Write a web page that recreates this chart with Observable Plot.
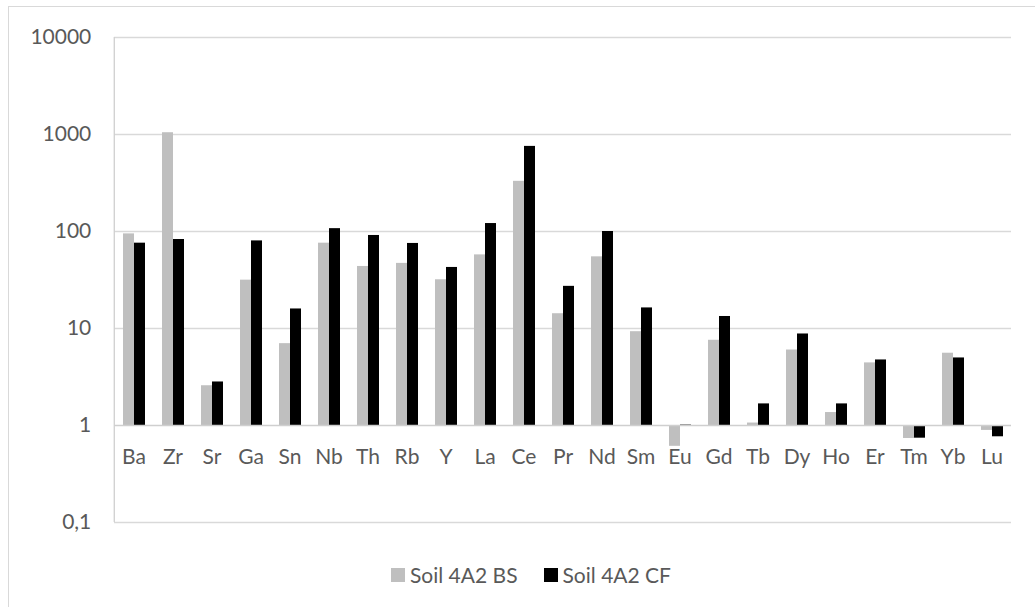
<!DOCTYPE html>
<html>
<head>
<meta charset="utf-8">
<script src="https://cdn.jsdelivr.net/npm/d3@7"></script>
<script src="https://cdn.jsdelivr.net/npm/@observablehq/plot@0.6"></script>
<style>
  body { margin: 0; background: #fff; font-family: Lato, "Open Sans", sans-serif; }
  #wrap { position: relative; width: 1035px; height: 607px; overflow: hidden; background: #fff; }
  #border { position: absolute; left: 8px; top: 6px; width: 1060px; height: 640px; border: 1.5px solid #d9d9d9; box-sizing: border-box; }
  #chart { position: absolute; left: 0; top: 0; }
  #legend { position: absolute; left: 391px; top: 562px; display: flex; align-items: center; font-family: Lato, sans-serif; font-size: 21px; color: #595959; white-space: nowrap; }
  .item { display: flex; align-items: center; margin-right: 26px; }
  .sw { width: 14px; height: 14px; margin-right: 5px; }
</style>
</head>
<body>
<div id="wrap">
  <div id="border"></div>
  <div id="chart"></div>
  <div id="legend"></div>
</div>
<script>
const elements = ["Ba","Zr","Sr","Ga","Sn","Nb","Th","Rb","Y","La","Ce","Pr","Nd","Sm","Eu","Gd","Tb","Dy","Ho","Er","Tm","Yb","Lu"];
const seriesNames = ["Soil 4A2 BS", "Soil 4A2 CF"];
const soilBS = [94.5, 1043, 2.57, 31.5, 6.98, 75.8, 43.6, 46.9, 31.8, 57.4, 329, 14.2, 54.8, 9.27, 0.61, 7.56, 1.06, 6.0, 1.36, 4.42, 0.735, 5.56, 0.89];
const soilCF = [75.8, 82.7, 2.81, 80, 15.9, 107, 91, 75.3, 42.6, 120.8, 754, 27.2, 100, 16.3, 1.01, 13.3, 1.67, 8.78, 1.67, 4.74, 0.74, 4.97, 0.765];
const yTicks = [0.1, 1, 10, 100, 1000, 10000];
const seriesColors = ["#bfbfbf", "#000000"];

const data = elements.flatMap((el, i) => [
  {el, series: seriesNames[0], value: soilBS[i]},
  {el, series: seriesNames[1], value: soilCF[i]}
]);

const fmt = d => String(d).replace(".", ",");

const W = 1035, ML = 109, MR = 19;
const facetWidth = (W - ML - MR) / elements.length;

const plot = Plot.plot({
  width: W,
  height: 540,
  marginLeft: ML,
  marginRight: MR,
  marginTop: 37,
  marginBottom: 18,
  style: {fontFamily: "Lato, sans-serif", fontSize: "21px", color: "#595959", background: "transparent", overflow: "visible"},
  fx: {domain: elements, padding: 0, axis: null, label: null},
  x: {domain: seriesNames, paddingInner: 0, paddingOuter: 0.767, axis: null, label: null},
  y: {type: "log", domain: [0.1, 10000], axis: null, label: null},
  color: {domain: seriesNames, range: seriesColors},
  marks: [
    Plot.ruleY(yTicks.filter(d => d !== 1), {stroke: "#d9d9d9", strokeWidth: 1.3}),
    Plot.barY(data, {fx: "el", x: "series", y1: () => 1, y2: "value", fill: "series"}),
    Plot.ruleY([1], {stroke: "#cfcfcf", strokeWidth: 1.3}),
    Plot.ruleX([elements[0]], {fx: d => d, x: null, y1: () => 0.1, y2: () => 10000, dx: -facetWidth / 2, stroke: "#cfcfcf", strokeWidth: 1.3}),
    Plot.text(elements, {fx: d => d, y: () => 1, text: d => d, dy: 32, fill: "#595959", fontSize: 21}),
    Plot.text(yTicks, {fx: () => elements[0], y: d => d, text: fmt, textAnchor: "end", dx: -(facetWidth / 2 + 23), fill: "#595959", fontSize: 21})
  ]
});
document.getElementById("chart").appendChild(plot);

const legend = document.getElementById("legend");
seriesNames.forEach((name, i) => {
  const item = document.createElement("div");
  item.className = "item";
  const sw = document.createElement("div");
  sw.className = "sw";
  sw.style.background = seriesColors[i];
  const t = document.createElement("span");
  t.textContent = name;
  item.appendChild(sw);
  item.appendChild(t);
  legend.appendChild(item);
});
</script>
</body>
</html>
